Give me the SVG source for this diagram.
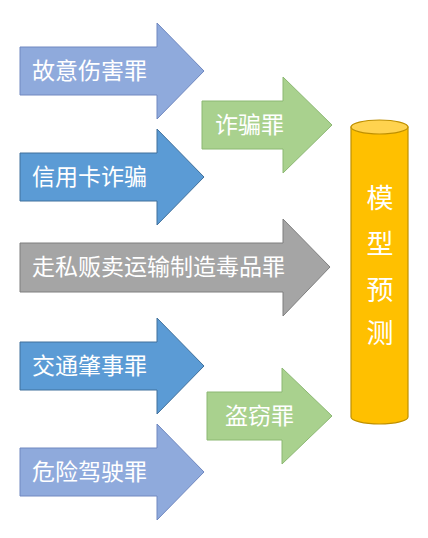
<svg xmlns="http://www.w3.org/2000/svg" width="428" height="538" viewBox="0 0 428 538">
<style>
text{font-family:"Noto Sans CJK SC","Noto Sans",sans-serif;fill:#fff;font-size:23px;}
.purple{fill:#8FAADC;stroke:#7088C0;stroke-width:1}
.blue{fill:#5B9BD5;stroke:#41719C;stroke-width:1}
.gray{fill:#A5A5A5;stroke:#7F7F7F;stroke-width:1}
.green{fill:#A9D18E;stroke:#8CB873;stroke-width:1}
.cyl{fill:#FFC000;stroke:#BF9000;stroke-width:1.2}
.cyltop{fill:#FFD34F;stroke:#BF9000;stroke-width:1.2}
.big{font-size:27px}
</style>
<rect width="428" height="538" fill="#fff"/>
<g id="connectors"></g>
<g id="n1"><path class="purple" d="M20,47 H157 V23 L204,71 L157,119 V95 H20 Z"/><text x="32" y="79">故意伤害罪</text></g>
<g id="n2"><path class="green" d="M202,101 H283 V77 L332,125 L283,173 V149 H202 Z"/><text x="215" y="133">诈骗罪</text></g>
<g id="n3"><path class="blue" d="M20,153 H157 V129 L204,177 L157,225 V201 H20 Z"/><text x="32" y="185">信用卡诈骗</text></g>
<g id="n4"><path class="gray" d="M20,243 H283 V219 L330,267 L283,316 V292 H20 Z"/><text x="32" y="275">走私贩卖运输制造毒品罪</text></g>
<g id="n5"><path class="blue" d="M20,342 H157 V318 L204,366 L157,414 V390 H20 Z"/><text x="32" y="374">交通肇事罪</text></g>
<g id="n6"><path class="green" d="M207,392 H282 V368 L332,416 L282,464 V440 H207 Z"/><text x="225" y="424">盗窃罪</text></g>
<g id="n7"><path class="purple" d="M20,448 H157 V424 L204,472 L157,520 V496 H20 Z"/><text x="32" y="480">危险驾驶罪</text></g>
<g id="n8">
<path class="cyl" d="M351,127 V417 A28.5,7 0 0 0 408,417 V127 Z"/>
<ellipse class="cyltop" cx="379.5" cy="127" rx="28.5" ry="7"/>
<text class="big" x="380" y="208" text-anchor="middle">模</text>
<text class="big" x="380" y="254" text-anchor="middle">型</text>
<text class="big" x="380" y="300" text-anchor="middle">预</text>
<text class="big" x="380" y="343" text-anchor="middle">测</text>
</g>
</svg>
